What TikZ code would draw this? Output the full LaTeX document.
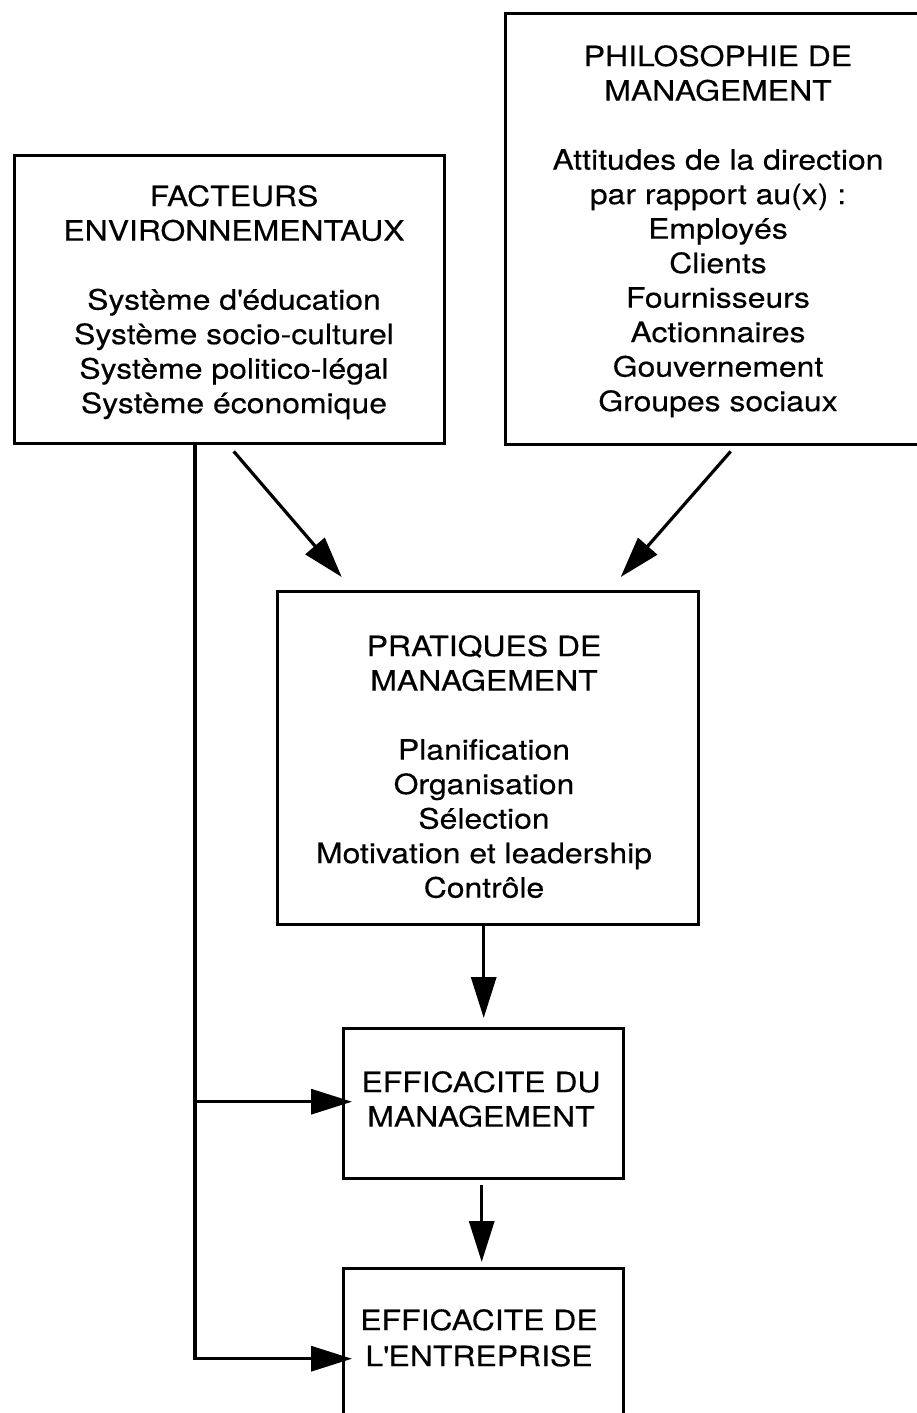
\documentclass[tikz,border=0pt]{standalone}
\usepackage{fontspec}
\setmainfont{TeX Gyre Heros}[FakeStretch=1.14,FakeBold=0.3]
\usetikzlibrary{arrows.meta,calc}
\begin{document}
\begin{tikzpicture}[x=1pt,y=-1pt,
  box/.style={draw, line width=3.4pt, rectangle, inner sep=0pt, anchor=north west},
  txt/.style={inner sep=0pt, align=center, anchor=north, font=\fontsize{28}{34.5}\selectfont},
  arr/.style={-{Triangle[length=41pt,width=25pt]}, line width=3.2pt},
  ln/.style={line width=3.2pt}]
\useasboundingbox (0,0) rectangle (917,1413);
\clip (0,0) rectangle (917,1413);
% boxes
\node[box, minimum width=430pt, minimum height=288pt] (A) at (13,154) {};
\node[box, minimum width=426pt, minimum height=431pt] (B) at (504,12) {};
\node[box, minimum width=421pt, minimum height=333pt] (C) at (276,590) {};
\node[box, minimum width=280pt, minimum height=150pt] (D) at (342,1027) {};
\node[box, minimum width=280pt, minimum height=200pt] (E) at (342,1267) {};
% texts
\node[txt] (tA) at (234,185) {FACTEURS\\ENVIRONNEMENTAUX\\[34.5pt]Système d\textquotesingle éducation\\Système socio-culturel\\Système politico-légal\\Système économique};
\node[txt] (tB) at (718,45) {PHILOSOPHIE DE\\MANAGEMENT\\[34.5pt]Attitudes de la direction\\par rapport au(x) :\\Employés\\Clients\\Fournisseurs\\Actionnaires\\Gouvernement\\Groupes sociaux};
\node[txt] (tC) at (484,635) {PRATIQUES DE\\MANAGEMENT\\[34.5pt]Planification\\Organisation\\Sélection\\Motivation et leadership\\Contrôle};
\node[txt] (tD) at (481,1071) {EFFICACITE DU\\MANAGEMENT};
\node[txt, font=\fontsize{28}{36}\selectfont] (tE) at (479,1309) {EFFICACITE DE\\L\textquotesingle ENTREPRISE};
% connector end points
\coordinate (a1) at ([shift={(4,6)}]A.south);
\coordinate (c1) at ([shift={(-146.5,-13)}]C.north);
\coordinate (b1) at ([shift={(12,5)}]B.south);
\coordinate (c2) at ([shift={(132.5,-13)}]C.north);
\coordinate (c3) at ([shift={(-4.5,0)}]C.south);
\coordinate (d1) at ([shift={(0,-9)}]D.north);
\coordinate (d2) at ([shift={(-2,5)}]D.south);
\coordinate (e1) at ([shift={(-2,-5)}]E.north);
\coordinate (ls) at ([shift={(182,0)}]A.south west);
\coordinate (dt) at ([shift={(10,-2)}]D.west);
\coordinate (et) at ([shift={(10,-10)}]E.west);
% connectors
\draw[arr] (a1) -- (c1);
\draw[arr] (b1) -- (c2);
\draw[arr] (c3) -- (d1);
\draw[arr] (d2) -- (e1);
\draw[arr] (ls) |- (et);
\draw[arr] (ls |- dt) -- (dt);
\end{tikzpicture}
\end{document}
